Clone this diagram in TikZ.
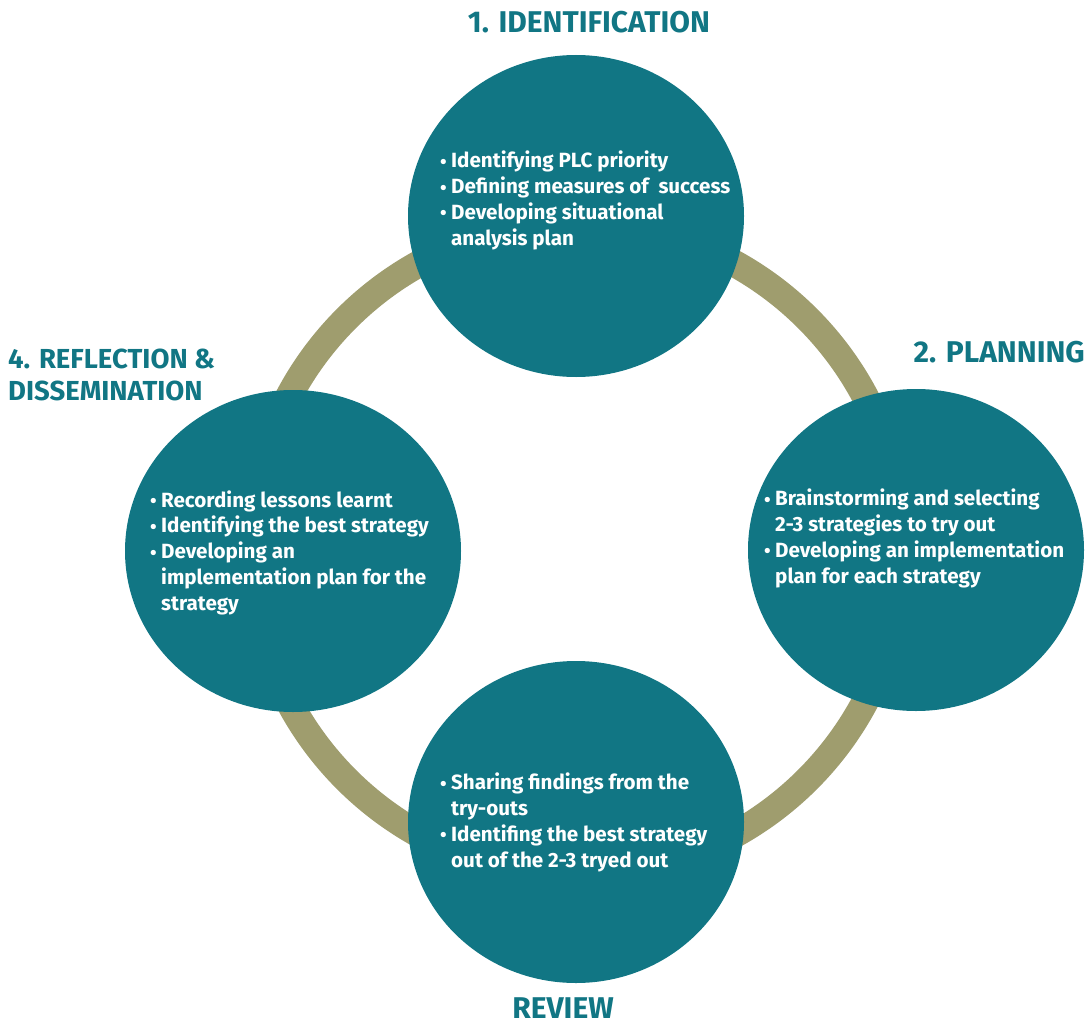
\documentclass[tikz,border=0pt]{standalone}
\usepackage{fontspec}
\setmainfont{Fira Sans}
\usetikzlibrary{shapes.geometric}
\definecolor{petrol}{RGB}{17,118,132}
\definecolor{olive}{RGB}{159,157,110}
\newcommand{\bl}{\makebox[11pt][l]{\raisebox{-0.5pt}{\fontsize{19}{19}\selectfont\textbullet}}}
\newcommand{\ind}{\hspace*{11pt}}
\begin{document}
\begin{tikzpicture}[x=1pt, y=-1pt, ring/.style={draw=olive, line width=27pt},
		stage/.style={ellipse, fill=petrol, minimum width=336pt, minimum height=322pt, inner sep=0pt},
		items/.style={anchor=base west, align=left, inner sep=0pt, text=white, font=\bfseries\fontsize{20.6}{25.7}\selectfont},
		title/.style={anchor=base, align=left, inner sep=0pt, text=petrol, font=\bfseries\fontsize{30}{32}\selectfont}]
		\useasboundingbox (0,0) rectangle (1090,1025);
		\coordinate (hub) at (577,549);
		\draw[ring] (hub) circle[radius=326pt];

		% the four stages
		\node[stage] (ident) at (576,216) {}; \node[stage] (plan) at (916,550) {};
		\node[stage] (review) at (576,822) {}; \node[stage] (reflect) at (293,551) {};

		% base of each list = baseline of its last line
		\node[items] (identtxt) at (440,245) {\bl Identifying PLC priority\\ \bl Defining measures of\ \ success\\ \bl Developing situational\\ \ind analysis plan};
		\node[items] (plantxt) at (764,583) {\bl Brainstorming and selecting\\ \ind 2-3 strategies to try out\\ \bl Developing an implementation\\ \ind plan for each strategy};
		\node[items] (reviewtxt) at (440,867) {\bl Sharing findings from the\\ \ind try-outs\\ \bl Identifing the best strategy\\ \ind out of the 2-3 tryed out};
		\node[items] (reflecttxt) at (150,610) {\bl Recording lessons learnt\\ \bl Identifying the best strategy\\ \bl Developing an\\ \ind implementation plan for the\\ \ind strategy};

		% stage titles
		\node[title] (identlbl) at (589,33) {1. IDENTIFICATION};
		\node[title, anchor=base east] (planlbl) at (1085,362) {2. PLANNING};
		\node[title, anchor=base west, font=\bfseries\fontsize{27.5}{32}\selectfont] (reflectlbl) at (8,400) {4. REFLECTION \&\\DISSEMINATION};
		\node[title] (reviewlbl) at (563,1018) {REVIEW};
	\end{tikzpicture}
\end{document}
